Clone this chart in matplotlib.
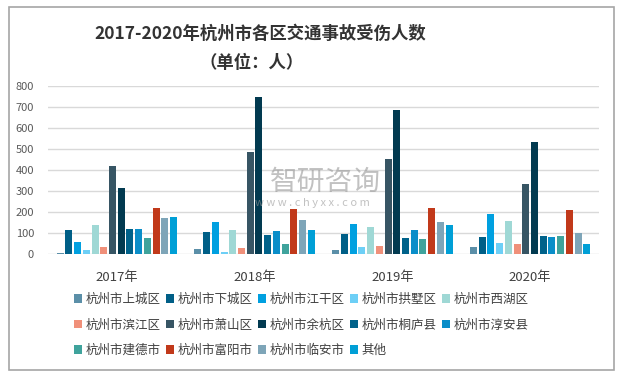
import numpy as np
import matplotlib.pyplot as plt
from matplotlib.patches import Rectangle

plt.rcParams['font.family'] = ['Noto Sans CJK SC', 'DejaVu Sans']

years = ['2017年', '2018年', '2019年', '2020年']
districts = ['杭州市上城区', '杭州市下城区', '杭州市江干区', '杭州市拱墅区', '杭州市西湖区',
             '杭州市滨江区', '杭州市萧山区', '杭州市余杭区', '杭州市桐庐县', '杭州市淳安县',
             '杭州市建德市', '杭州市富阳市', '杭州市临安市', '其他']
colors = ['#5b8fa8', '#005f87', '#00a0e0', '#6dcff6', '#9fd8d5',
          '#f0907a', '#375564', '#023a50', '#00628a', '#0a8ec9',
          '#3fa39c', '#c1391a', '#7ea5b8', '#009fd6']

# values per district, one entry per year (2017..2020)
shangcheng = [5, 24, 19, 33]
xiacheng = [114, 105, 95, 81]
jianggan = [57, 152, 143, 190]
gongshu = [19, 10, 33, 52]
xihu = [138, 114, 129, 157]
binjiang = [33, 29, 38, 48]
xiaoshan = [419, 486, 452, 333]
yuhang = [314, 748, 686, 533]
tonglu = [119, 90, 76, 86]
chunan = [119, 110, 114, 81]
jiande = [76, 48, 71, 86]
fuyang = [219, 214, 219, 210]
linan = [171, 162, 152, 100]
other = [176, 114, 138, 48]

series = [shangcheng, xiacheng, jianggan, gongshu, xihu, binjiang, xiaoshan,
          yuhang, tonglu, chunan, jiande, fuyang, linan, other]

fig = plt.figure(figsize=(6.27, 3.77), dpi=100)
ax = fig.add_axes([48 / 627, 1 - 254 / 377, 551 / 627, 168 / 377])

x = np.arange(len(years))
slot = 0.0633
bw = 0.051
n = len(series)
for i, vals in enumerate(series):
    offs = (i - (n - 1) / 2) * slot
    ax.bar(x + offs, vals, width=bw, color=colors[i], label=districts[i], zorder=3)

ax.set_xlim(-0.5, 3.5)
ax.set_ylim(0, 800)
ax.set_yticks(range(0, 801, 100))
ax.set_xticks(x)
ax.set_xticklabels(years, fontsize=9.5, color='#404040')
ax.tick_params(axis='y', labelsize=8, colors='#595959', length=0, pad=10)
ax.tick_params(axis='x', length=0, pad=12)
ax.grid(axis='y', color='#d9d9d9', lw=1, zorder=0)
for s in ax.spines.values():
    s.set_visible(False)

fig.text(260 / 627, 1 - 34 / 377, '2017-2020年杭州市各区交通事故受伤人数',
         ha='center', va='center', fontsize=12.5, fontweight='bold', color='#333333')
fig.text(252 / 627, 1 - 63 / 377, '（单位：人）',
         ha='center', va='center', fontsize=12.5, fontweight='bold', color='#333333')

# watermark
fig.text(325 / 627, 1 - 182 / 377, '智研咨询', ha='center', va='center',
         fontsize=20, color='#999999', alpha=0.6, zorder=5)
fig.text(312 / 627, 1 - 203 / 377, 'w w w . c h y x x . c o m', ha='center', va='center',
         fontsize=8, color='#999999', alpha=0.6, zorder=5)

# legend is filled column by column, so reorder to read row by row
handles, labels = ax.get_legend_handles_labels()
order = [0, 5, 10, 1, 6, 11, 2, 7, 12, 3, 8, 13, 4, 9]
fig.legend([handles[k] for k in order], [labels[k] for k in order],
           loc='upper left', bbox_to_anchor=(74 / 627, 1 - 293 / 377), ncol=5,
           frameon=False, fontsize=9, handlelength=0.65, handleheight=0.65,
           handletextpad=0.3, columnspacing=0.4, labelspacing=1.0,
           labelcolor='#404040', borderaxespad=0, borderpad=0)

fig.patches.append(Rectangle((9 / 627, 1 - 370 / 377), 605 / 627, 363 / 377,
                             transform=fig.transFigure, fill=False,
                             edgecolor='#a6a6a6', lw=1.2))

plt.savefig('out.png', dpi=100)
